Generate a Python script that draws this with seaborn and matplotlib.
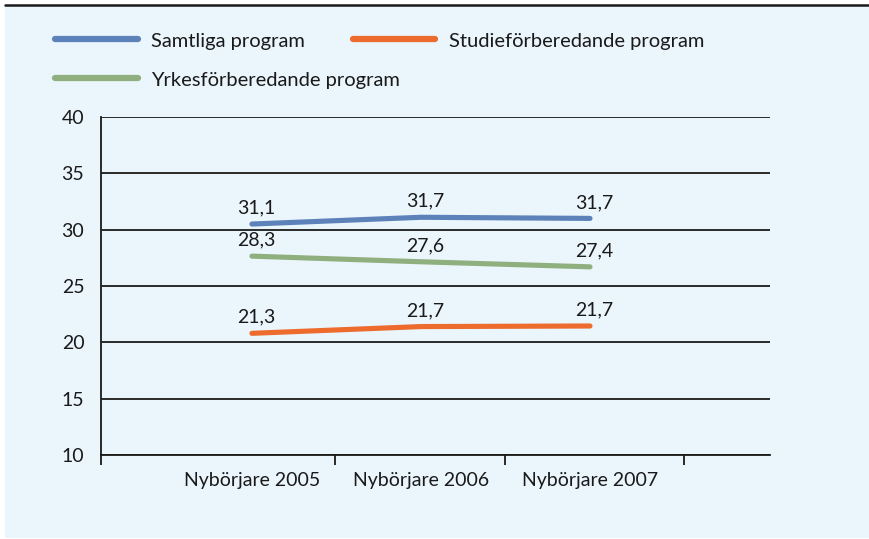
import matplotlib
matplotlib.use("Agg")
import matplotlib.pyplot as plt
import seaborn as sns
import pandas as pd
from matplotlib.lines import Line2D
from matplotlib.patches import Rectangle

# ---- data ----
categories = ["Nybörjare 2005", "Nybörjare 2006", "Nybörjare 2007"]
series_names = ["Samtliga program", "Studieförberedande program", "Yrkesförberedande program"]
# line positions as drawn in the picture
samtliga = [30.5, 31.1, 31.0]
studie = [20.8, 21.4, 21.45]
yrkes = [27.65, 27.15, 26.7]
# printed data labels
samtliga_labels = ["31,1", "31,7", "31,7"]
studie_labels = ["21,3", "21,7", "21,7"]
yrkes_labels = ["28,3", "27,6", "27,4"]
y_ticks = [10, 15, 20, 25, 30, 35, 40]

colors = {"Samtliga program": "#5C82B9",
          "Studieförberedande program": "#EC6B2D",
          "Yrkesförberedande program": "#8FAF7F"}

df = pd.DataFrame({
    "kategori": categories * 3,
    "serie": [series_names[0]] * 3 + [series_names[1]] * 3 + [series_names[2]] * 3,
    "värde": samtliga + studie + yrkes,
})

sns.set_theme(style="white")
plt.rcParams["font.family"] = ["Lato", "DejaVu Sans"]

W, H = 870, 539
fig = plt.figure(figsize=(W / 100, H / 100), dpi=100, facecolor="white")
bg = "#EAF5FC"
fig.patches.append(Rectangle((5 / W, 1 / H), 1 - 5 / W, 1 - 7 / H, transform=fig.transFigure,
                             facecolor=bg, edgecolor="none", zorder=-10))
fig.lines.append(Line2D([5 / W, 1], [1 - 5 / H, 1 - 5 / H], transform=fig.transFigure,
                        color="#1a1a1a", lw=1.8, zorder=-5))

ax = fig.add_axes([101 / W, 1 - 455 / H, (770 - 101) / W, (455 - 117) / H])
ax.set_facecolor(bg)

sns.lineplot(data=df, x="kategori", y="värde", hue="serie", palette=colors,
             hue_order=series_names, ax=ax, linewidth=3.7, legend=False, sort=False)
for ln in ax.lines:
    ln.set_solid_capstyle("round")

label_sets = [(samtliga, samtliga_labels), (studie, studie_labels), (yrkes, yrkes_labels)]
for vals, labs in label_sets:
    for i, (v, t) in enumerate(zip(vals, labs)):
        ax.annotate(t, (i, v), xytext=(3, 11.5), textcoords="offset points",
                    ha="center", va="center", fontsize=14, color="#1a1a1a")

ax.set_ylim(10, 40)
ax.set_xlim(-0.893, 3.065)
ax.set_yticks(y_ticks)
ax.set_yticklabels([str(t) for t in y_ticks], fontsize=14, color="#1a1a1a")
ax.yaxis.grid(True, color="#1a1a1a", linewidth=1.3)
ax.set_axisbelow(True)
ax.tick_params(axis="y", length=0, pad=12)

ax.set_xticks([0, 1, 2])
ax.set_xticklabels(categories, fontsize=14, color="#1a1a1a")
ax.tick_params(axis="x", which="major", length=0, pad=12)
ax.set_xticks([-0.893, 0.49, 1.497, 2.556], minor=True)
ax.tick_params(axis="x", which="minor", bottom=True, length=7, width=1.3,
               color="#1a1a1a", direction="out")
ax.set_xlabel("")
ax.set_ylabel("")

for s in ["top", "right"]:
    ax.spines[s].set_visible(False)
for s in ["left", "bottom"]:
    ax.spines[s].set_color("#1a1a1a")
    ax.spines[s].set_linewidth(1.3)

def h(name):
    return Line2D([], [], color=colors[name], lw=4.5, solid_capstyle="round")

LFS = 14.5
leg1 = fig.legend([h(series_names[0]), h(series_names[1])], series_names[:2],
                  loc="center left", bbox_to_anchor=(55 / W, 1 - 41 / H), ncol=2,
                  frameon=False, fontsize=LFS, handlelength=4.1, handletextpad=0.65,
                  columnspacing=2.4, borderpad=0, borderaxespad=0)
leg2 = fig.legend([h(series_names[2])], series_names[2:],
                  loc="center left", bbox_to_anchor=(55 / W, 1 - 80 / H), ncol=1,
                  frameon=False, fontsize=LFS, handlelength=4.1, handletextpad=0.65,
                  borderpad=0, borderaxespad=0)
for lg in (leg1, leg2):
    for t in lg.get_texts():
        t.set_color("#1a1a1a")

fig.savefig("out.png", dpi=100, facecolor="white")
